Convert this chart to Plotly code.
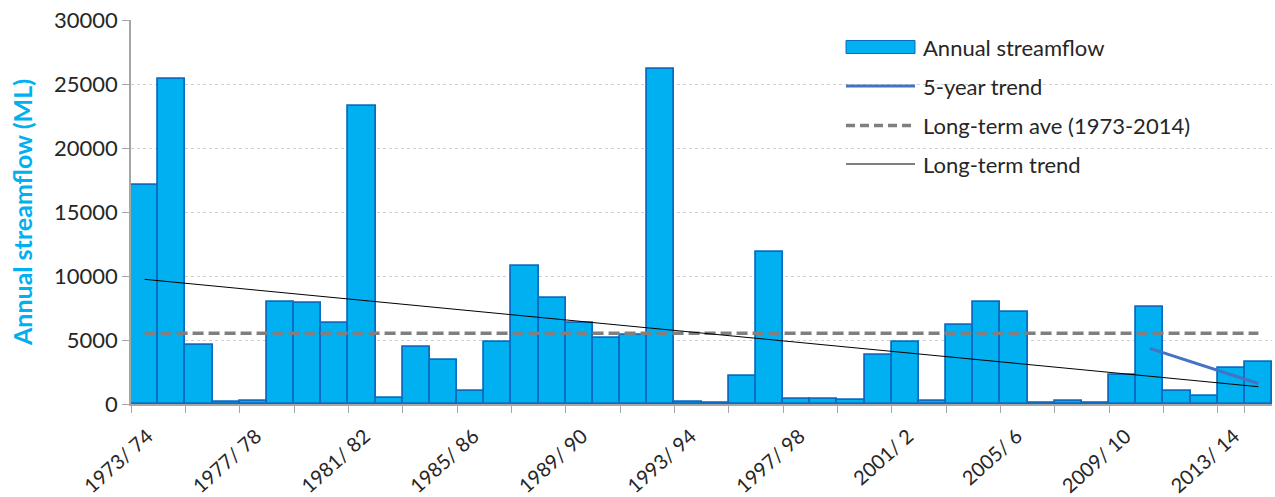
import plotly.graph_objects as go

categories = [
    "1973/ 74", "1974/ 75", "1975/ 76", "1976/ 77", "1977/ 78", "1978/ 79",
    "1979/ 80", "1980/ 81", "1981/ 82", "1982/ 83", "1983/ 84", "1984/ 85",
    "1985/ 86", "1986/ 87", "1987/ 88", "1988/ 89", "1989/ 90", "1990/ 91",
    "1991/ 92", "1992/ 93", "1993/ 94", "1994/ 95", "1995/ 96", "1996/ 97",
    "1997/ 98", "1998/ 99", "1999/ 2000", "2000/ 1", "2001/ 2", "2002/ 3",
    "2003/ 4", "2004/ 5", "2005/ 6", "2006/ 7", "2007/ 8", "2008/ 9",
    "2009/ 10", "2010/ 11", "2011/ 12", "2012/ 13", "2013/ 14", "2014/ 15",
]

streamflow = [
    17100, 25400, 4600, 150, 250, 8000, 7900, 6300, 23300, 500,
    4450, 3400, 1000, 4850, 10800, 8300, 6350, 5150, 5400, 26200,
    150, 80, 2200, 11900, 400, 400, 300, 3850, 4850, 200,
    6150, 8000, 7150, 100, 200, 100, 2250, 7600, 1000, 600,
    2850, 3250,
]

five_year_x = ["2010/ 11", "2014/ 15"]
five_year_y = [4350, 1600]

long_term_ave = 5530
ave_x = ["1973/ 74", "2014/ 15"]

trend_x = ["1973/ 74", "2014/ 15"]
trend_y = [9740, 1350]

y_ticks = [0, 5000, 10000, 15000, 20000, 25000, 30000]

legend_labels = ["Annual streamflow", "5-year trend",
                 "Long-term ave (1973-2014)", "Long-term trend"]

FONT = "Lato, 'Open Sans', sans-serif"
BAR_FILL = "#00B0F0"
BAR_LINE = "#0B6DC1"
TEXT = "#262626"
DASH = "11px,5px"

fig = go.Figure()
fig.add_trace(go.Bar(x=categories, y=streamflow, marker=dict(color=BAR_FILL,
                     line=dict(color=BAR_LINE, width=1.8)), name=legend_labels[0]))
fig.add_trace(go.Scatter(x=ave_x, y=[long_term_ave, long_term_ave], mode="lines",
                         line=dict(color="#808080", width=3.5, dash=DASH),
                         name=legend_labels[2]))
fig.add_trace(go.Scatter(x=trend_x, y=trend_y, mode="lines",
                         line=dict(color="#000000", width=1), name=legend_labels[3]))
fig.add_trace(go.Scatter(x=five_year_x, y=five_year_y, mode="lines",
                         line=dict(color="#4472C4", width=3), name=legend_labels[1]))

# plot area in pixels
W, H = 1275, 497
L, R, T, B = 131, 3, 20, 93
pw, ph = W - L - R, H - T - B

def px(x):
    return (x - L) / pw

def py(y):
    return (H - B - y) / ph

shapes = []
annotations = []
sx0, sx1, tx = 846, 915, 921
rows = [47, 86, 125.5, 164]
shapes.append(dict(type="rect", xref="paper", yref="paper", x0=px(sx0), x1=px(sx1),
                   y0=py(rows[0] + 6.5), y1=py(rows[0] - 6.5),
                   fillcolor=BAR_FILL, line=dict(color=BAR_LINE, width=1)))
shapes.append(dict(type="line", xref="paper", yref="paper", x0=px(sx0), x1=px(sx1),
                   y0=py(rows[1]), y1=py(rows[1]), line=dict(color="#4472C4", width=3)))
shapes.append(dict(type="line", xref="paper", yref="paper", x0=px(sx0), x1=px(sx1),
                   y0=py(rows[2]), y1=py(rows[2]),
                   line=dict(color="#808080", width=3.5, dash="9px,5px")))
shapes.append(dict(type="line", xref="paper", yref="paper", x0=px(sx0), x1=px(sx1),
                   y0=py(rows[3]), y1=py(rows[3]), line=dict(color="#000000", width=1)))
for lab, r in zip(legend_labels, rows):
    annotations.append(dict(text=lab, xref="paper", yref="paper", x=px(tx), y=py(r),
                            xanchor="left", yanchor="middle", showarrow=False,
                            font=dict(family=FONT, size=22, color=TEXT)))

tickvals = categories[0::2]
ticktext = [c if i % 2 == 0 else "" for i, c in enumerate(tickvals)]

fig.update_layout(
    width=W, height=H,
    margin=dict(l=L, r=R, t=T, b=B, autoexpand=False),
    paper_bgcolor="white", plot_bgcolor="white",
    bargap=0, showlegend=False,
    font=dict(family=FONT, size=20, color=TEXT),
    shapes=shapes, annotations=annotations,
    xaxis=dict(type="category", categoryorder="array", categoryarray=categories,
               tickvals=tickvals, ticktext=ticktext, tickson="boundaries",
               ticks="outside", ticklen=7, tickcolor="#A6A6A6", tickwidth=1,
               tickangle=-42, ticklabelstandoff=11, ticklabelshift=3,
               showgrid=False, showline=True, linecolor="#A6A6A6",
               linewidth=1.5, tickfont=dict(size=20), range=[-0.5, 41.5],
               automargin=False),
    yaxis=dict(range=[0, 30000], tickvals=y_ticks, tickformat="d",
               ticks="outside", ticklen=7, tickcolor="#A6A6A6",
               showgrid=True, gridcolor="#D0D0D0", griddash="dot", gridwidth=1,
               showline=True, linecolor="#A6A6A6", linewidth=1.5, zeroline=False,
               tickfont=dict(size=22), automargin=False,
               title=dict(text="Annual streamflow (ML)", standoff=14,
                          font=dict(family=FONT, size=25, color=BAR_FILL, weight="bold"))),
)

fig.write_html("out.html", config={"displayModeBar": False},
               post_script="document.body.style.margin='0px';document.body.style.overflow='hidden';")
